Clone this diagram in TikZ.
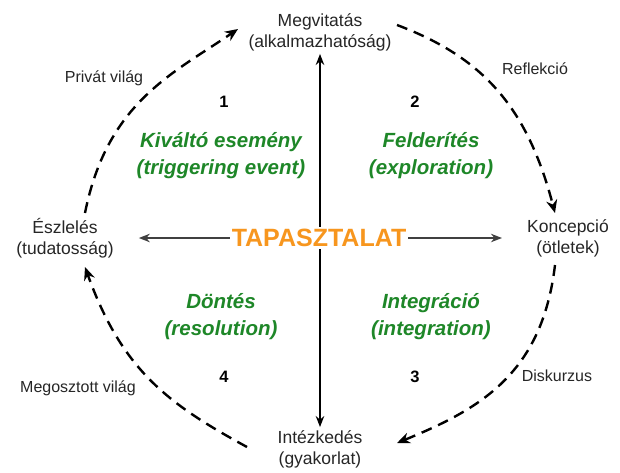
\documentclass[tikz,border=0pt]{standalone}
\usepackage{fontspec}
\setmainfont{Liberation Sans}
\usetikzlibrary{arrows.meta}
\definecolor{tapor}{RGB}{247,150,30}
\definecolor{phgreen}{RGB}{30,135,40}
\begin{document}
\begin{tikzpicture}[x=1pt,y=-1pt,
  lbl/.style={align=center,inner sep=3pt,font=\fontsize{17.5}{21}\selectfont,text=black!85},
  phase/.style={align=center,inner sep=0pt,text=phgreen,font=\fontsize{20.5}{27}\selectfont\bfseries\itshape},
  num/.style={inner sep=0pt,font=\fontsize{16.5}{18}\selectfont\bfseries},
  small/.style={inner sep=0pt,font=\fontsize{16}{18}\selectfont,text=black!85},
  cyc/.style={line width=2.4pt,dash pattern=on 11pt off 7pt,-{Stealth[length=13pt,width=11pt]}},
  axis/.style={line width=1.4pt,{Stealth[length=11pt,width=8.5pt]}-{Stealth[length=11pt,width=8.5pt]}}]
\useasboundingbox (0,0) rectangle (620,473);
\fill[white] (0,0) rectangle (620,473);
% corner nodes
\node[lbl] (meg) at (320,32) {Megvitatás\\(alkalmazhatóság)};
\node[lbl] (int) at (320,449) {Intézkedés\\(gyakorlat)};
\node[lbl] (esz) at (65,238) {Észlelés\\(tudatosság)};
\node[lbl] (kon) at (568,238) {Koncepció\\(ötletek)};
% centre
\node[inner sep=2pt,font=\fontsize{25}{30}\selectfont\bfseries,text=tapor] (tap) at (319,238) {TAPASZTALAT};
% axes
\draw[axis,black] (int) -- (meg);
\fill[white] (tap.south west) rectangle (tap.north east);
\node[inner sep=2pt,font=\fontsize{25}{30}\selectfont\bfseries,text=tapor] at (tap) {TAPASZTALAT};
\draw[line width=1.4pt,black!75,-{Stealth[length=11pt,width=8.5pt]},shorten >=22pt] (tap.west) -- (esz.east);
\draw[line width=1.4pt,black!75,-{Stealth[length=11pt,width=8.5pt]},shorten >=22pt] (tap.east) -- (kon.west);
% phases
\node[phase] (p1) at (221,156) {Kiváltó esemény\\(triggering event)};
\node[phase] (p2) at (431,156) {Felderítés\\(exploration)};
\node[phase] (p4) at (221,317) {Döntés\\(resolution)};
\node[phase] (p3) at (431,317) {Integráció\\(integration)};
\node[num] (n1) at (224,102) {1};
\node[num] (n2) at (415,102) {2};
\node[num] (n3) at (415,377) {3};
\node[num] (n4) at (224,377) {4};
% cycle labels
\node[small] (lpriv) at (104,78) {Privát világ};
\node[small] (lrefl) at (535,69) {Reflekció};
\node[small] (ldisk) at (557,376) {Diskurzus};
\node[small] (lmeg) at (78,388) {Megosztott világ};
% cycle arcs
\coordinate (a1s) at (85,213);
\coordinate (a1e) at (238,29);
\coordinate (a2s) at (397,25);
\coordinate (a2e) at (555,213);
\coordinate (a3s) at (555,265);
\coordinate (a3e) at (397,443);
\coordinate (a4s) at (247,447);
\coordinate (a4e) at (85,267);
\draw[cyc] (a1s) .. controls (107,103) and (172,74) .. (a1e);
\draw[cyc] (a2s) .. controls (482,57) and (527,106) .. (a2e);
\draw[cyc] (a3s) .. controls (542,374) and (480,409) .. (a3e);
\draw[cyc] (a4s) .. controls (168,404) and (122,370) .. (a4e);
\end{tikzpicture}
\end{document}
